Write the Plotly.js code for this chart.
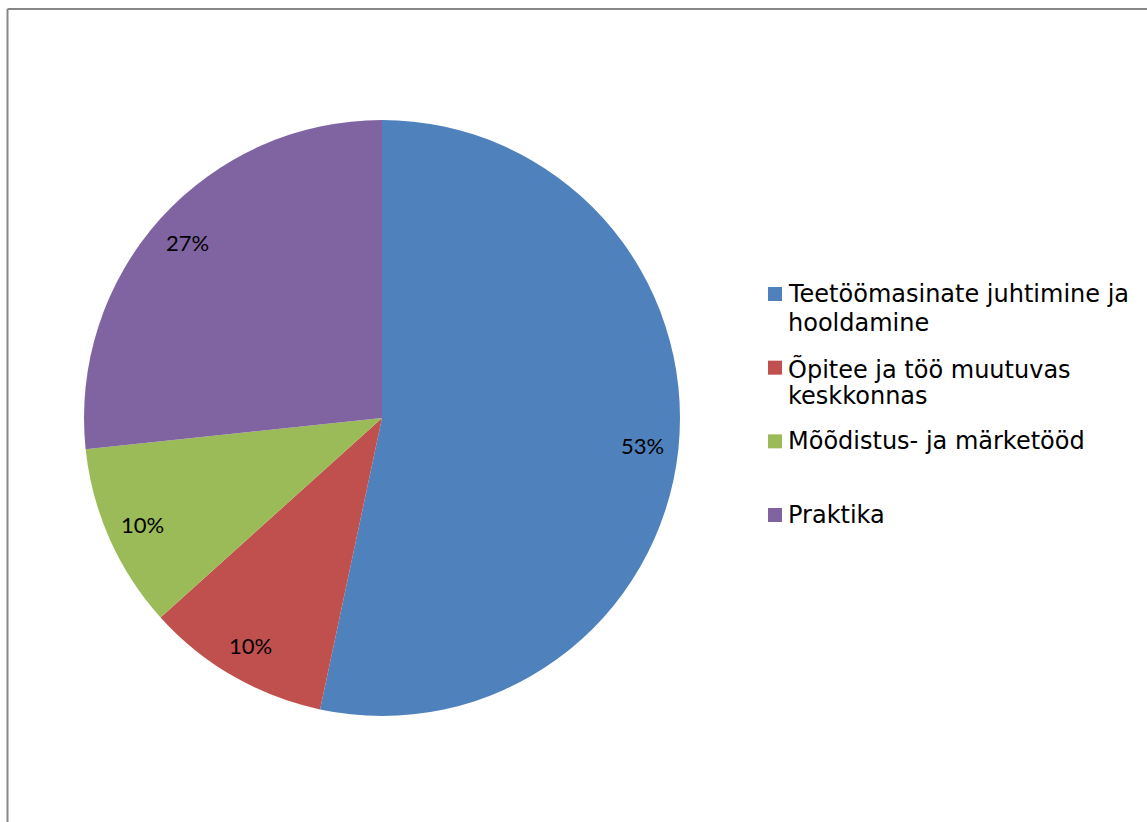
<!DOCTYPE html>
<html>
<head>
<meta charset="utf-8">
<script src="https://cdn.plot.ly/plotly-3.0.1.min.js"></script>
<style>
html,body{margin:0;padding:0;background:#fff;}
#chart{width:1147px;height:822px;}
</style>
</head>
<body>
<div id="chart"></div>
<script>
// Data
const categories = [
  "Teetöömasinate juhtimine ja<br>hooldamine",
  "Õpitee ja töö muutuvas<br>keskkonnas",
  "Mõõdistus- ja märketööd",
  "Praktika"
];
const values = [16, 3, 3, 8];
const colors = ["#4F81BD", "#C0504D", "#9BBB59", "#8064A2"];

const W = 1147, H = 822;
const cxPx = 382, cyPx = 418, Rpx = 298;
const domX = [(cxPx - Rpx) / W, (cxPx + Rpx) / W];
const domY = [1 - (cyPx + Rpx) / H, 1 - (cyPx - Rpx) / H];

const total = values.reduce((a, b) => a + b, 0);
const annotations = [];
const shapes = [];
let cum = 0;
values.forEach((v, i) => {
  const mid = (cum + v / 2) / total * 2 * Math.PI;
  cum += v;
  const f = 0.88;
  const px = cxPx + f * Rpx * Math.sin(mid);
  const py = cyPx - f * Rpx * Math.cos(mid);
  annotations.push({
    xref: "paper", yref: "paper",
    x: px / W, y: 1 - py / H,
    xanchor: "center", yanchor: "middle",
    text: Math.round(v / total * 100) + "%",
    showarrow: false,
    font: {family: "Lato, 'Liberation Sans', sans-serif", size: 22, color: "#000"}
  });
});

// Legend (built from categories / colors)
const legTop = 287, legStep = 73.67, sq = 14, legX = 768, lineH = 28.5;
categories.forEach((c, i) => {
  const top = legTop + i * legStep;
  shapes.push({
    type: "rect", xref: "paper", yref: "paper",
    x0: legX / W, x1: (legX + sq) / W,
    y0: 1 - top / H, y1: 1 - (top + sq) / H,
    fillcolor: colors[i], line: {width: 0}
  });
  c.split("<br>").forEach((ln, j) => {
    annotations.push({
      xref: "paper", yref: "paper",
      x: (legX + 18) / W, y: 1 - (top - 9 + j * lineH) / H,
      xanchor: "left", yanchor: "top", align: "left",
      text: ln, showarrow: false,
      font: {family: "'DejaVu Sans', Verdana, sans-serif", size: 24, color: "#000"}
    });
  });
});

shapes.push(
  {type: "line", xref: "paper", yref: "paper", x0: 7.5 / W, x1: 1, y0: 1 - 9 / H, y1: 1 - 9 / H, line: {color: "#878787", width: 2}},
  {type: "line", xref: "paper", yref: "paper", x0: 7.5 / W, x1: 7.5 / W, y0: 1 - 9 / H, y1: 0, line: {color: "#878787", width: 2}}
);

const trace = {
  type: "pie",
  labels: categories.map(s => s.replace("<br>", " ")),
  values: values,
  sort: false,
  direction: "clockwise",
  rotation: 0,
  marker: {colors: colors, line: {width: 0}},
  textinfo: "none",
  hoverinfo: "label+percent",
  domain: {x: domX, y: domY}
};

const layout = {
  width: W, height: H,
  margin: {l: 0, r: 0, t: 0, b: 0},
  paper_bgcolor: "#fff",
  showlegend: false,
  annotations: annotations,
  shapes: shapes
};

Plotly.newPlot("chart", [trace], layout, {displayModeBar: false, staticPlot: true});
</script>
</body>
</html>
